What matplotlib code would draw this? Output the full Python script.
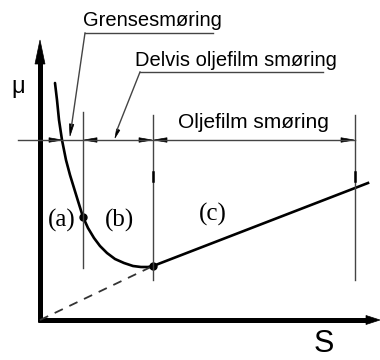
#!/usr/bin/env python3

import numpy as np
from matplotlib import pyplot as plt
from matplotlib.patches import Polygon

# Stribeck curve, drawn in pixel-like units (y grows downwards)
origin = (40, 320)
x_end = 380
y_top = 40

# friction curve through the boundary and mixed regimes
curve_x = [55, 57, 59, 62, 66, 70, 74, 78, 83, 88, 94, 100, 107, 115, 124, 133, 141, 148, 153]
curve_y = [83, 100, 120, 140, 160, 175, 188, 201, 217, 228, 238, 246, 253, 259, 263, 266, 267, 267, 266]
# hydrodynamic branch (straight line)
line_x = [153, 368]
line_y = [266, 183]

# regime borders and their extent
borders = [83, 153, 355]
border_top = [112, 115, 115]
border_bot = [268, 280, 280]

dim_y = 140
dim_start = 18
labels = ['(a)', '(b)', '(c)']
label_pos = [(62, 220), (120, 220), (213, 214)]

col = 'black'


def arrowhead(ax, tip, direction, length=13, width=4.5, color=col):
    tx, ty = tip
    dx, dy = direction
    n = np.hypot(dx, dy)
    dx, dy = dx/n, dy/n
    px, py = -dy, dx
    bx, by = tx - dx*length, ty - dy*length
    pts = [(tx, ty), (bx + px*width/2, by + py*width/2), (bx - px*width/2, by - py*width/2)]
    ax.add_patch(Polygon(pts, closed=True, fc=color, ec=color, lw=0.5))


plt.figure(figsize=(3.8, 3.6), dpi=100)
ax = plt.axes((0, 0, 1, 1))
ax.set_xlim(0, 380)
ax.set_ylim(360, 0)
ax.axis('off')

### Axes with arrows
ax.plot([origin[0], origin[0]], [origin[1]+2, y_top+15], color=col, lw=3.6, solid_capstyle='butt')
ax.plot([origin[0]-2, x_end-10], [origin[1], origin[1]], color=col, lw=3.6, solid_capstyle='butt')
arrowhead(ax, (origin[0], y_top), (0, -1), length=24, width=10)
arrowhead(ax, (x_end, origin[1]), (1, 0), length=14, width=9)
ax.text(18, 87, 'μ', ha='center', va='center', size=17, family='Liberation Sans')
ax.text(324, 344, 'S', ha='center', va='center', size=22, family='Liberation Sans')

### Curve
ax.plot(curve_x, curve_y, color=col, lw=1.9, solid_capstyle='round')
ax.plot(line_x, line_y, color=col, lw=1.9)
ax.plot([origin[0], line_x[0]], [origin[1], line_y[0]], color='#333333', lw=1.3, ls=(0, (5, 4)))
ax.plot([borders[0], borders[1]], [217, 266], 'o', color=col, ms=5)

### Regime borders
for xb, yt, yb in zip(borders, border_top, border_bot):
    ax.plot([xb, xb], [yt, yb], color='#444444', lw=1.0)
for xb in borders[1:]:
    ax.plot([xb, xb], [172, 181], color=col, lw=1.8)

### Dimension line
ax.plot([dim_start, borders[2]], [dim_y, dim_y], color='#444444', lw=1.0)
arrowhead(ax, (62, dim_y), (1, 0))
arrowhead(ax, (borders[0]+1, dim_y), (-1, 0))
arrowhead(ax, (borders[1]-1, dim_y), (1, 0))
arrowhead(ax, (borders[1]+1, dim_y), (-1, 0))
arrowhead(ax, (borders[2]-1, dim_y), (1, 0))

for lab, (lx, ly) in zip(labels, label_pos):
    ax.text(lx, ly, lab, ha='center', va='center', size=18, family='Liberation Serif')

### Leaders with text
ax.plot([85, 213], [33, 33], color='#444444', lw=1.0)
ax.plot([85, 71.5], [33, 126], color='#444444', lw=1.0)
arrowhead(ax, (70, 136), (-13.5, 100), length=12, width=4.5)
ax.text(83, 20, 'Grensesmøring', ha='left', va='center', size=14.5, family='Liberation Sans')

ax.plot([140, 323], [72, 72], color='#444444', lw=1.0)
ax.plot([140, 117], [72, 130], color='#444444', lw=1.0)
arrowhead(ax, (115, 138), (-25, 66), length=9, width=3.5)
ax.text(135, 61, 'Delvis oljefilm smøring', ha='left', va='center', size=14.5, family='Liberation Sans')

ax.text(178, 123, 'Oljefilm smøring', ha='left', va='center', size=15, family='Liberation Sans')

plt.savefig('out.png', dpi=100)
